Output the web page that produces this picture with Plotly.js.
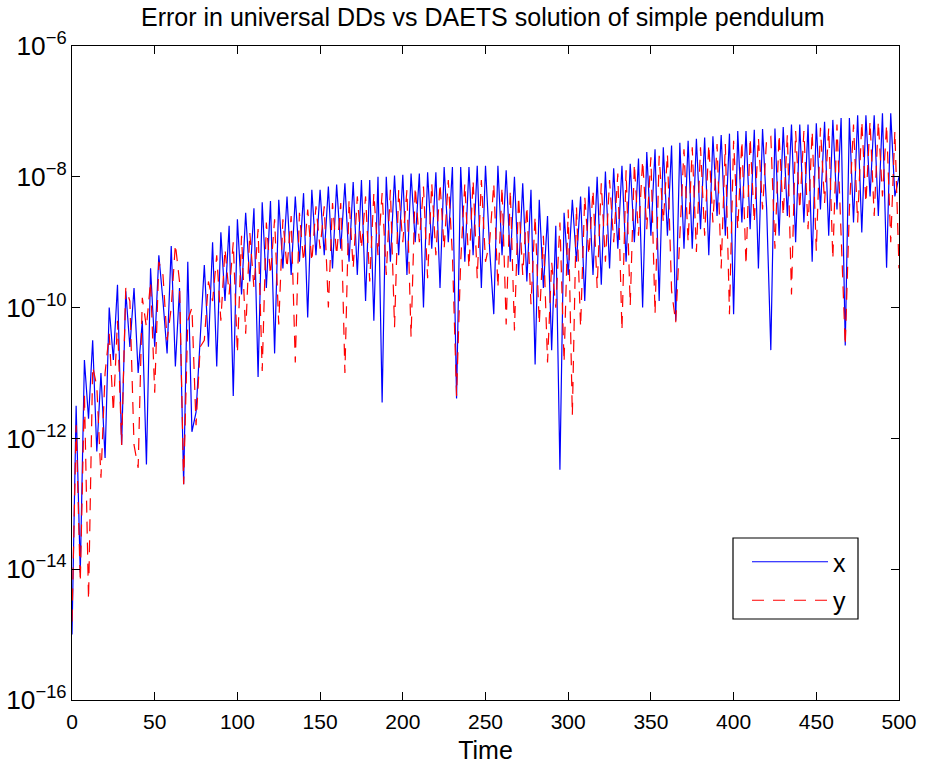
<!DOCTYPE html>
<html>
<head>
<meta charset="utf-8">
<script src="https://cdn.plot.ly/plotly-3.0.1.min.js"></script>
<style>html,body{margin:0;padding:0;background:#fff;}#chart{width:925px;height:765px;}</style>
</head>
<body>
<div id="chart"></div>
<script>
// Time samples
const time = [0,2.5,5,7.5,10,12.5,15,17.5,20,22.5,25,27.5,30,32.5,35,37.5,40,42.5,45,47.5,
50,52.5,55,57.5,60,62.5,65,67.5,70,72.5,75,77.5,80,82.5,85,87.5,90,92.5,95,97.5,
100,102.5,105,107.5,110,112.5,115,117.5,120,122.5,125,127.5,130,132.5,135,137.5,140,142.5,145,147.5,
150,152.5,155,157.5,160,162.5,165,167.5,170,172.5,175,177.5,180,182.5,185,187.5,190,192.5,195,197.5,
200,202.5,205,207.5,210,212.5,215,217.5,220,222.5,225,227.5,230,232.5,235,237.5,240,242.5,245,247.5,
250,252.5,255,257.5,260,262.5,265,267.5,270,272.5,275,277.5,280,282.5,285,287.5,290,292.5,295,297.5,
300,302.5,305,307.5,310,312.5,315,317.5,320,322.5,325,327.5,330,332.5,335,337.5,340,342.5,345,347.5,
350,352.5,355,357.5,360,362.5,365,367.5,370,372.5,375,377.5,380,382.5,385,387.5,390,392.5,395,397.5,
400,402.5,405,407.5,410,412.5,415,417.5,420,422.5,425,427.5,430,432.5,435,437.5,440,442.5,445,447.5,
450,452.5,455,457.5,460,462.5,465,467.5,470,472.5,475,477.5,480,482.5,485,487.5,490,492.5,495,497.5,
500];

// log10 of the error in x
const xErrExp = [-15.0,-11.5,-14.05,-10.8,-11.7,-10.5,-12.2,-11.0,-12.3,-10.0,
-10.8,-9.65,-12.1,-9.75,-10.6,-9.7,-11.0,-10.2,-12.4,-9.4,
-10.6,-9.2,-9.9,-10.7,-9.06,-10.9,-9.7,-12.7,-9.3,-11.9,
-11.6,-10.4,-9.35,-10.6,-9.0,-10.9,-8.85,-9.9,-8.75,-11.35,
-8.65,-9.8,-8.55,-9.6,-8.48,-11.06,-8.39,-9.7,-8.37,-10.7,
-8.35,-9.4,-8.3,-9.5,-8.3,-9.3,-8.25,-10.15,-8.2,-9.2,
-8.2,-9.2,-8.15,-9.4,-8.12,-9.1,-8.1,-9.3,-8.08,-9.5,
-8.05,-9.9,-8.05,-10.2,-8.0,-11.45,-8.0,-9.3,-7.98,-9.2,
-7.97,-9.5,-7.95,-9.0,-7.95,-10.0,-7.93,-9.1,-7.93,-9.7,
-7.85,-9.0,-7.85,-11.39,-7.85,-9.3,-7.85,-9.2,-7.83,-9.7,
-7.83,-9.1,-10.1,-7.83,-9.2,-7.9,-9.3,-8.0,-9.5,-8.1,
-9.6,-8.2,-10.87,-8.35,-9.7,-8.6,-10.65,-8.75,-12.48,-8.55,
-9.5,-8.35,-9.3,-8.3,-9.9,-8.15,-9.5,-8.0,-9.65,-7.92,
-9.4,-7.87,-9.1,-7.83,-9.3,-7.8,-9.0,-7.72,-10.0,-7.62,
-8.9,-7.58,-9.9,-7.55,-8.9,-7.52,-10.2,-7.48,-9.1,-7.45,
-9.1,-7.42,-8.8,-7.4,-9.2,-7.38,-8.6,-7.36,-8.9,-7.34,
-10.1,-7.3,-8.7,-7.3,-8.8,-7.28,-9.4,-7.27,-8.5,-10.65,
-7.26,-8.9,-7.24,-8.6,-7.2,-9.0,-7.2,-8.7,-7.2,-9.3,
-7.18,-8.5,-7.16,-8.9,-7.13,-8.5,-7.1,-10.58,-7.1,-8.7,
-7.06,-8.85,-7.06,-8.3,-7.06,-8.6,-7.03,-9.39,-7.03,-8.3,
-8.0];

// log10 of the error in y
const yErrExp = [-14.8,-11.8,-14.2,-11.3,-14.47,-10.9,-11.2,-12.6,-11.0,-10.4,
-11.6,-10.2,-12.1,-9.7,-9.9,-12.1,-12.45,-9.85,-10.3,-9.6,
-11.3,-9.3,-9.5,-10.5,-10.0,-9.03,-9.6,-12.7,-10.2,-10.0,
-11.8,-10.6,-10.5,-9.6,-9.9,-9.2,-10.2,-9.1,-9.8,-9.0,
-10.7,-8.9,-10.4,-8.85,-9.7,-8.8,-10.97,-8.7,-9.5,-8.65,
-10.26,-8.65,-9.4,-8.6,-10.84,-8.55,-9.3,-8.5,-9.3,-8.45,
-9.1,-8.45,-10.0,-8.4,-9.2,-8.4,-11.0,-8.35,-9.4,-8.3,
-9.1,-8.3,-9.6,-8.25,-9.2,-8.25,-9.5,-8.2,-10.3,-8.2,
-9.0,-8.2,-10.45,-8.15,-9.0,-8.15,-9.55,-8.1,-9.2,-8.1,
-9.1,-8.05,-9.2,-11.35,-9.3,-8.1,-9.4,-8.05,-9.55,-8.05,
-9.3,-9.0,-8.1,-9.7,-8.15,-10.26,-8.2,-10.35,-8.3,-9.5,
-8.45,-9.95,-8.6,-10.26,-8.9,-10.84,-9.3,-10.0,-8.7,-10.84,
-8.5,-11.65,-8.45,-10.3,-8.3,-9.2,-8.2,-9.7,-8.1,-9.3,
-8.05,-9.0,-7.95,-10.35,-7.9,-9.97,-7.8,-8.9,-7.75,-8.8,
-7.7,-10.1,-7.68,-8.7,-7.65,-9.74,-10.23,-8.9,-7.58,-9.0,
-7.55,-9.15,-7.55,-8.9,-7.5,-8.7,-7.5,-9.4,-7.5,-10.1,
-7.45,-8.8,-7.45,-9.35,-7.4,-8.7,-7.4,-8.5,-7.4,-7.38,
-9.1,-7.35,-8.6,-7.35,-9.8,-7.3,-8.5,-7.3,-8.8,-7.3,
-9.13,-7.25,-8.4,-7.25,-9.26,-7.2,-8.9,-10.58,-8.5,-7.2,
-8.7,-7.15,-8.4,-7.15,-8.6,-7.15,-8.3,-7.2,-9.0,-7.3,
-9.4];

const seriesNames = ['x', 'y'];
const xTicks = [0, 50, 100, 150, 200, 250, 300, 350, 400, 450, 500];

const toValue = e => Math.pow(10, e);
const FONT = 'Liberation Sans, Arial, Helvetica, sans-serif';

const traces = [
  {x: time, y: xErrExp.map(toValue), name: seriesNames[0], legendgroup: 'gx', type: 'scatter', mode: 'lines',
   line: {color: '#0000ff', width: 1.2}},
  {x: time, y: yErrExp.map(toValue), name: seriesNames[1], legendgroup: 'gy', type: 'scatter', mode: 'lines',
   line: {color: '#ff0000', width: 1.2, dash: '12px,9px'}}
];

// plot area in pixels: x 72..899, y 46..700
const px = v => (v - 72) / 827;
const py = v => (700 - v) / 654;

const layout = {
  width: 925, height: 765,
  margin: {l: 72, r: 26, t: 46, b: 65},
  paper_bgcolor: '#fff', plot_bgcolor: '#fff',
  font: {family: FONT, color: '#000', size: 21},
  title: {text: 'Error in universal DDs vs DAETS solution of simple pendulum',
          font: {family: FONT, size: 25, color: '#000'},
          x: 0.522, xanchor: 'center', y: 0.978, yanchor: 'middle'},
  showlegend: true,
  legend: {x: px(747), y: py(539), xanchor: 'left', yanchor: 'top',
           bgcolor: 'rgba(0,0,0,0)', borderwidth: 0, tracegroupgap: 3,
           font: {family: FONT, size: 25, color: '#000'}, itemwidth: 76},
  shapes: [{type: 'rect', xref: 'paper', yref: 'paper', layer: 'above',
            x0: px(733), x1: px(858), y0: py(619), y1: py(538),
            fillcolor: '#fff', line: {color: '#000', width: 1.2}}],
  xaxis: {range: [0, 500], tickmode: 'array', tickvals: xTicks, ticktext: xTicks.map(String),
          ticks: 'inside', ticklen: 8, tickcolor: '#000', ticklabelstandoff: 3,
          showline: true, linecolor: '#000', linewidth: 1.2, mirror: 'ticks',
          showgrid: false, zeroline: false,
          tickfont: {family: FONT, size: 21, color: '#000'},
          title: {text: 'Time', font: {family: FONT, size: 25, color: '#000'}, standoff: 9}},
  yaxis: {type: 'log', range: [-16, -6], dtick: 2, exponentformat: 'power',
          ticks: 'inside', ticklen: 8, tickcolor: '#000',
          showline: true, linecolor: '#000', linewidth: 1.2, mirror: 'ticks',
          showgrid: false, zeroline: false,
          tickfont: {family: FONT, size: 21, color: '#000'}}
};

Plotly.newPlot('chart', traces, layout, {displayModeBar: false, staticPlot: true});
</script>
</body>
</html>
